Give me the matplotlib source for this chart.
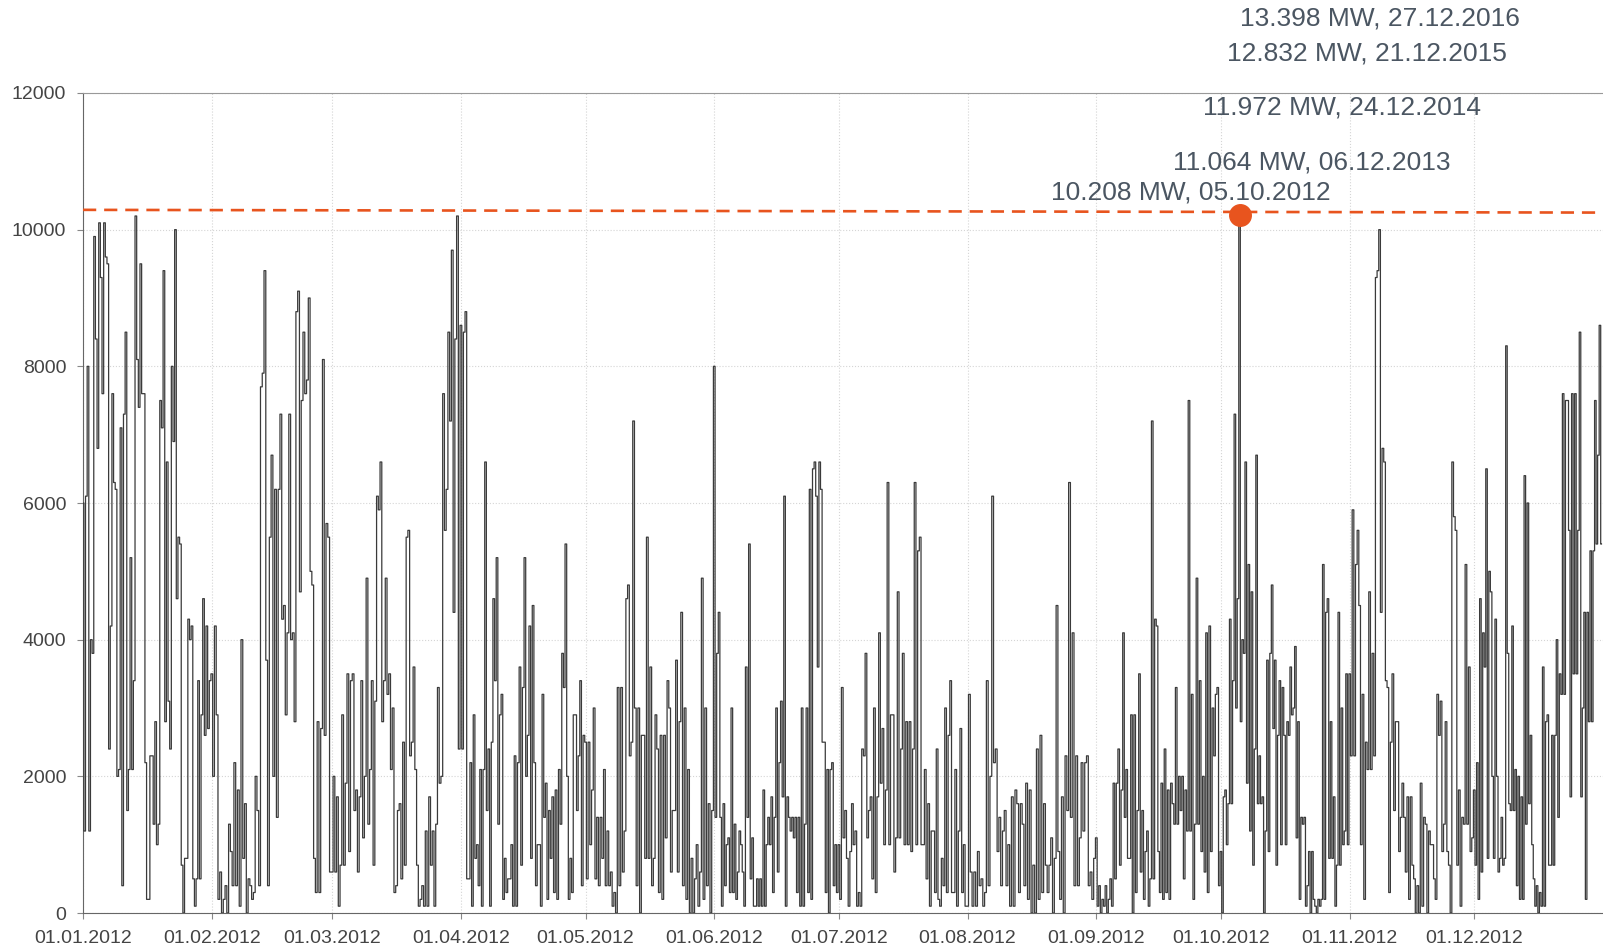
import matplotlib
matplotlib.use('Agg')
import matplotlib.pyplot as plt
import matplotlib.dates as mdates
import numpy as np

plt.rcParams['font.family'] = ['Liberation Sans', 'DejaVu Sans']

# feed-in values, in 100 MW, spread evenly over each month
jan = [60, 12, 61, 80, 12, 40, 38, 99, 84, 68, 101, 93, 76, 101, 96, 95, 24, 42, 76, 63,
       62, 20, 21, 71, 4, 73, 85, 15, 21, 52, 21, 34, 102, 81, 74, 95, 76, 76, 22, 2,
       2, 23, 23, 13, 28, 10, 13, 75, 71, 94, 28, 66, 31, 24, 80, 69, 100, 46, 55, 54,
       7, 0, 8, 8, 43, 40, 42, 5, 1, 5, 34, 5, 29, 46, 26, 42, 27, 34]
feb = [35, 20, 42, 29, 2, 6, 0, 2, 4, 0, 13, 9, 4, 22, 4, 18, 1, 40, 8, 16,
       0, 5, 4, 2, 3, 20, 15, 4, 77, 79, 94, 37, 4, 55, 67, 20, 62, 14, 62, 73,
       43, 45, 29, 41, 73, 40, 41, 28, 88, 91, 47, 75, 85, 76, 78, 90, 50, 48, 8, 3,
       28, 3, 27, 81, 26, 57, 55, 6]
mar = [6, 20, 6, 17, 1, 7, 29, 7, 19, 35, 9, 34, 35, 15, 18, 6, 17, 34, 11, 20,
       49, 13, 21, 34, 7, 31, 61, 59, 66, 28, 34, 49, 32, 35, 21, 30, 3, 4, 15, 16,
       5, 25, 7, 55, 56, 23, 25, 36, 21, 7, 1, 2, 4, 1, 12, 1, 17, 7, 12, 1,
       13, 33, 19, 20, 76, 56, 62, 85, 72, 97, 44, 84, 102, 24]
apr = [86, 24, 85, 88, 5, 5, 22, 1, 29, 8, 10, 4, 21, 1, 21, 66, 15, 24, 1, 25,
       46, 34, 52, 13, 29, 32, 2, 8, 3, 5, 5, 10, 1, 23, 1, 22, 36, 7, 33, 52,
       20, 26, 42, 8, 45, 22, 4, 10, 10, 1, 32, 14, 19, 2, 15, 8, 17, 3, 18, 2,
       21, 13, 38, 33, 54, 20, 2, 8, 3, 29, 29, 15, 23, 34, 4, 26]
may = [25, 5, 25, 10, 18, 30, 5, 14, 4, 14, 8, 21, 4, 12, 4, 6, 1, 3, 0, 33,
       4, 33, 6, 12, 46, 48, 23, 25, 72, 30, 4, 30, 0, 26, 26, 8, 55, 8, 36, 4,
       8, 29, 24, 3, 26, 2, 26, 11, 34, 30, 6, 15, 15, 37, 6, 28, 44, 4, 30, 2,
       21, 0, 8, 0, 5, 10, 1, 6, 49, 2, 30, 4, 16, 0, 15]
jun = [80, 14, 38, 44, 14, 1, 16, 4, 10, 11, 3, 30, 3, 13, 2, 6, 12, 10, 6, 1,
       36, 14, 54, 5, 11, 1, 1, 5, 1, 5, 1, 18, 1, 10, 14, 10, 17, 3, 14, 30,
       6, 22, 31, 17, 61, 1, 17, 14, 12, 14, 11, 14, 3, 14, 1, 30, 1, 13, 30, 3,
       62, 2, 65, 66, 61, 36, 66, 62, 25, 25, 3, 21, 0, 21, 22, 4, 10, 3]
jul = [10, 2, 33, 11, 15, 8, 1, 9, 16, 10, 12, 1, 3, 1, 24, 23, 38, 11, 15, 17,
       5, 30, 3, 17, 41, 19, 27, 10, 18, 63, 10, 29, 29, 6, 11, 47, 11, 24, 38, 10,
       28, 10, 28, 9, 24, 63, 10, 53, 55, 10, 10, 21, 5, 16, 1, 12, 12, 3, 24, 2,
       1, 8, 4, 30, 3, 26, 34, 3, 3, 21, 1, 12, 27, 3, 10, 1]
aug = [1, 32, 6, 1, 6, 1, 9, 4, 5, 1, 3, 34, 4, 20, 61, 22, 24, 9, 14, 4,
       12, 15, 4, 10, 1, 17, 1, 18, 16, 3, 16, 13, 4, 19, 2, 18, 0, 7, 0, 24,
       2, 26, 3, 16, 7, 3, 7, 11, 0, 8, 45, 9, 2, 17, 0, 23, 15, 63, 14, 41,
       4, 23, 4, 11, 22, 12, 22, 23, 4, 6, 2, 8]
sep = [11, 1, 4, 0, 2, 1, 4, 0, 2, 5, 1, 19, 5, 19, 24, 7, 18, 41, 14, 21,
       8, 8, 29, 0, 29, 3, 15, 35, 6, 15, 2, 9, 12, 1, 5, 72, 5, 43, 42, 9,
       3, 19, 2, 24, 3, 18, 2, 19, 16, 13, 33, 13, 20, 15, 20, 5, 18, 12, 75, 12,
       32, 2, 13, 49, 13, 34, 9, 20, 6, 41, 3, 42, 9, 30, 23, 32, 33, 4]
oct_ = [9, 0, 17, 18, 10, 16, 43, 16, 34, 73, 30, 46, 102.08, 28, 40, 38, 66, 19, 51, 12,
        47, 7, 24, 67, 16, 23, 16, 17, 0, 12, 37, 9, 38, 48, 27, 37, 7, 26, 34, 10,
        33, 26, 10, 28, 26, 36, 29, 30, 39, 11, 28, 2, 14, 13, 14, 1, 4, 9, 0, 9,
        2, 1, 0, 2, 1, 2, 51, 2, 44, 46, 8, 28, 8, 17, 1, 7, 44, 7, 30, 10,
        12, 35, 10]
nov = [35, 23, 59, 23, 51, 56, 45, 10, 32, 2, 25, 21, 47, 21, 38, 23, 93, 94, 100, 44,
       68, 66, 34, 33, 3, 25, 35, 15, 28, 28, 9, 14, 19, 14, 6, 17, 2, 17, 7, 5,
       0, 4, 0, 19, 1, 14, 13, 0, 12, 10, 10, 5, 2, 32, 26, 31, 9, 13, 28, 9,
       7, 0, 66, 58, 56, 7, 18, 1, 14, 13, 51, 13, 36, 9, 11]
dec = [18, 7, 22, 2, 46, 6, 41, 36, 65, 8, 50, 47, 20, 8, 43, 20, 6, 8, 14, 7,
       8, 83, 38, 16, 15, 42, 15, 21, 4, 20, 2, 17, 2, 64, 13, 60, 16, 26, 10, 5,
       1, 4, 0, 3, 1, 36, 1, 28, 29, 7, 7, 26, 7, 26, 40, 14, 35, 32, 76, 32,
       75, 75, 56, 17, 76, 35, 76, 35, 56, 85, 17, 30, 44, 2, 44, 28, 53, 28, 53, 75,
       54, 67, 86, 54]
months = [jan, feb, mar, apr, may, jun, jul, aug, sep, oct_, nov, dec]

# yearly record peaks shown as labels
peak_mw = [13398, 12832, 11972, 11064, 10208]
peak_dates = ['27.12.2016', '21.12.2015', '24.12.2014', '06.12.2013', '05.10.2012']
label_pos = [(0.861, 0.981), (0.853, 0.944), (0.837, 0.887), (0.818, 0.829), (0.743, 0.797)]

# record line level at start and end of the year
record_line = [10290, 10250]

# build the time axis
t_parts = []
for m, vals in enumerate(months):
    m0 = np.datetime64('2012-%02d-01' % (m + 1), 'm')
    m1 = np.datetime64('2013-01-01', 'm') if m == 11 else np.datetime64('2012-%02d-01' % (m + 2), 'm')
    span = (m1 - m0).astype(float)
    offs = (np.arange(len(vals)) * span / len(vals)).astype('timedelta64[m]')
    t_parts.append(m0 + offs)
times = np.concatenate(t_parts)
values = np.concatenate([np.array(v, dtype=float) for v in months]) * 100

x0 = np.datetime64('2012-01-01')
x1 = np.datetime64('2013-01-01')

fig = plt.figure(figsize=(16.03, 9.48), dpi=100)
ax = fig.add_axes([0.0518, 0.0369, 0.9482, 0.865])

ax.plot(times, values, color='#3a3a3a', lw=0.9, drawstyle='steps-mid', zorder=3)
ax.plot([x0, x1], record_line, color='#e8541e', lw=1.9, linestyle=(0, (5, 3)), zorder=4)

imax = np.argmax(values)
ax.plot(times[imax], values[imax], 'o', color='#e8541e', markersize=15.5, zorder=5)

ax.set_xlim(x0, x1)
ax.set_ylim(0, 12000)
ax.set_yticks(range(0, 12001, 2000))
ax.set_xticks([np.datetime64('2012-%02d-01' % m) for m in range(1, 13)])
ax.xaxis.set_major_formatter(mdates.DateFormatter('%d.%m.%Y'))

ax.grid(True, linestyle=':', color='#d5d5d5', lw=0.8)
ax.set_axisbelow(True)
ax.tick_params(axis='both', labelsize=14, labelcolor='#444444', color='#888888', length=4)
ax.tick_params(axis='x', pad=8)
ax.tick_params(axis='y', pad=8)

ax.spines['right'].set_visible(False)
ax.spines['top'].set_color('#999999')
ax.spines['left'].set_color('#666666')
ax.spines['bottom'].set_color('#666666')

for mw, d, (px, py) in zip(peak_mw, peak_dates, label_pos):
    txt = '{:,} MW, {}'.format(mw, d).replace(',', '.', 1)
    fig.text(px, py, txt, ha='center', va='center', fontsize=19, color='#4b5662')

fig.savefig('out.png', dpi=100)
